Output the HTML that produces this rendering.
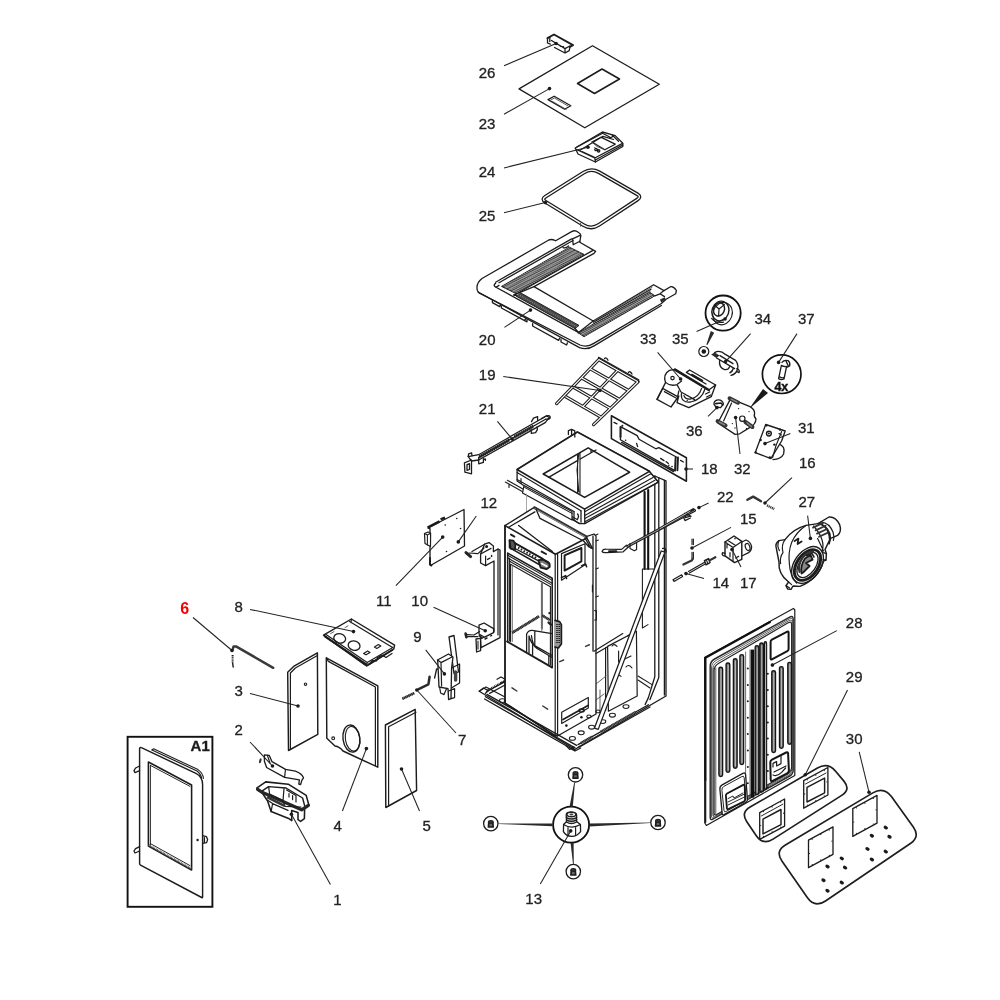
<!DOCTYPE html>
<html><head><meta charset="utf-8"><title>Exploded view</title>
<style>
html,body{margin:0;padding:0;background:#fff;}
body{width:1000px;height:1000px;overflow:hidden;font-family:"Liberation Sans",sans-serif;}
svg{display:block;position:absolute;left:0;top:0;filter:blur(0.55px);}
svg text{font-family:"Liberation Sans",sans-serif;font-size:15px;fill:#222;stroke:#222;stroke-width:.3px;}
.l{fill:none;stroke:#1c1c1c;stroke-width:1.3;stroke-linecap:round;stroke-linejoin:round;}
.t{fill:none;stroke:#444;stroke-width:.85;stroke-linecap:round;stroke-linejoin:round;}
.p{fill:#fff;stroke:#1c1c1c;stroke-width:1.3;stroke-linejoin:round;stroke-linecap:round;}
.k{fill:#2a2a2a;stroke:none;}
.g{fill:#666;stroke:#333;stroke-width:.6;}
.ld{fill:none;stroke:#222;stroke-width:1.05;}
.b{fill:none;stroke:#111;stroke-width:2;}
.d{fill:#1a1a1a;stroke:none;}
</style></head><body>
<svg width="1000" height="1000" viewBox="0 0 1000 1000">
<g id="10_top">
<path class="p" d="M519 88.9L592.5 45.8L659.3 84.3L584.8 127.8Z"/>
<path class="l" style="stroke-width:1.56" d="M577.5 83.5L602 69L619.5 79L594.5 93.5Z"/>
<path class="l" d="M548 99.6L554.2 96.2L570.8 105.8L564.6 109.2Z"/>
<path class="t" d="M550.5 100.2L554.4 98L567.8 105.8M552.6 101.6L566.2 109.4"/>
<path class="l" style="stroke-width:1.9" d="M547.5 38.2L554 34.5L573 45.2L569.8 47"/>
<path class="l" d="M547.5 38.2L547.5 43L550.3 44.2M549.8 37.2L549.8 41.5M554.5 47.5L565 53L569.2 50.6L570.2 46.2M565 48.6L565 53M551.5 40.5L565 48.6L569.8 46M560.5 46.3L563.5 46.6"/>
<path class="p" d="M575.2 148L602.4 132L615.2 135.6L622.8 143.2L622.8 146.5L595.4 162L578 154Z"/>
<path class="l" d="M576.5 149.5L594.8 158L622.6 143.4M594.8 158L595.4 162M595.3 160L622.8 145M580 150.2L603 136.3L613.5 139.5M592 142L600.8 137.2L615.2 144.2L604.8 149.8ZM603 133.5L611 137.8L613.5 135.8M612 134.8L618.5 141.2M582 151.5L594 157M577 147L602.6 133.2"/>
<path class="t" d="M592 142L597 146.5L604.8 149.8M594.5 147.5L598.5 150.5M596.5 148.5L599.5 151.5"/>
<circle class="l" cx="596" cy="149.5" r="1.2"/><circle class="l" cx="598.6" cy="150.8" r="1.2"/>
<path d="M545.6 201.9Q541.3 199.3 545.5 196.6L583.7 172.6Q591.3 167.8 599.1 172.3L637.3 194.3Q641.6 196.8 637.4 199.5L598.8 224.9Q591.3 229.8 583.6 225.1Z" style="fill:none;stroke:#1c1c1c;stroke-width:3.9"/>
<path d="M545.6 201.9Q541.3 199.3 545.5 196.6L583.7 172.6Q591.3 167.8 599.1 172.3L637.3 194.3Q641.6 196.8 637.4 199.5L598.8 224.9Q591.3 229.8 583.6 225.1Z" style="fill:none;stroke:#fff;stroke-width:1.32"/>
<path class="t" d="M580.5 223.2L580.5 226.2"/>
</g>
<g id="12_p20">
<path class="p" d="M477.4 290.5Q475.5 283.5 482 278.5L548.4 240.2Q551.5 238.6 555.6 240.8L571.6 231.6Q575 229.6 578.2 232.2Q581.6 234 580.6 237L579.8 242.2L595.6 251.4L594 253.4L534 286.6L593.2 321L653.6 284.7L664 290.6L670.5 286.7Q673.5 286 676.4 290.5L675.7 293.8L666 299.2L661.4 303.5L593.8 343.4Q587 347.8 580 345L479 292.8Z"/>
<path class="l" d="M478 292L579.5 347.6Q587 350.5 594.5 345.6L661.4 305.5"/>
<path class="l" d="M492.4 300.5L492.4 302.6L499.6 306.6L500.6 304.8M501.4 306L501.4 308L524.6 320.6L525.6 318.8M524.6 320.6L527 321.8L527 319.6M532.6 323.6L532.6 326L558.6 340.4L559.6 338.2M561 339.2L561 342L566.6 345L567.4 342.8"/>
<path class="l" d="M495.6 282.2L571.6 238.9"/>
<path class="l" d="M499.0 282.7L573.0 240.5"/>
<path class="l" d="M495.6 283.4Q492.5 285.6 496 287.2L499 285.4"/>
<path class="l" d="M572.6 238.8L580.6 235.2M572.6 238.8L573.2 244.8L579.8 241.2"/>
<path class="l" d="M563 247.6Q566 248.6 568.5 246"/>
<path class="l" d="M514.0 295.3L592.5 250.6"/>
<path class="l" d="M514 294.8L534 286.6"/>
<path d="M501.5 286.4 L569.4 247.2 L584.0 254.4 L516.0 293.6Z" style="fill:#484848;stroke:#1c1c1c;stroke-width:0.96"/><path d="M503.4 285.3L517.9 292.5M505.3 284.2L519.8 291.4M507.2 283.1L521.7 290.3M509.0 282.0L523.6 289.2M510.9 281.0L525.4 288.2M512.8 279.9L527.3 287.1M514.7 278.8L529.2 286.0M516.6 277.7L531.1 284.9M518.5 276.6L533.0 283.8M520.4 275.5L534.9 282.7M522.2 274.4L536.8 281.6M524.1 273.3L538.7 280.5M526.0 272.2L540.6 279.4M527.9 271.2L542.4 278.4M529.8 270.1L544.3 277.3M531.7 269.0L546.2 276.2M533.6 267.9L548.1 275.1M535.5 266.8L550.0 274.0M537.3 265.7L551.9 272.9M539.2 264.6L553.8 271.8M541.1 263.5L555.7 270.7M543.0 262.4L557.6 269.6M544.9 261.4L559.4 268.6M546.8 260.3L561.3 267.5M548.7 259.2L563.2 266.4M550.5 258.1L565.1 265.3M552.4 257.0L567.0 264.2M554.3 255.9L568.9 263.1M556.2 254.8L570.8 262.0M558.1 253.7L572.7 260.9M560.0 252.6L574.6 259.8M561.9 251.6L576.4 258.8M563.7 250.5L578.3 257.7M565.6 249.4L580.2 256.6M567.5 248.3L582.1 255.5M505.1 288.2L573.0 249.0M508.8 290.0L576.7 250.8M512.4 291.8L580.4 252.6" style="fill:none;stroke:#b0b0b0;stroke-width:0.72"/>
<path class="l" d="M496 287.2L578.8 332.6"/>
<path d="M516.2 296.2 L520.8 293.0 L579.0 325.4 L575.0 328.6Z" style="fill:#484848;stroke:#1c1c1c;stroke-width:0.96"/><path d="" style="fill:none;stroke:#b0b0b0;stroke-width:0.72"/>
<path d="M518.4 294.6L577 327" style="fill:none;stroke:#999;stroke-width:1.2;stroke-dasharray:.6 1.4"/>
<path class="l" d="M514 294.8L516.4 295.6M574.8 328.2L578.8 332.6"/>
<path class="t" d="M594.5 320.4L652.0 287.3"/>
<path class="l" d="M593.5 322.3L651.0 289.3"/>
<path class="t" d="M592.0 324.6L650.5 291.0"/>
<path d="M578.2 332.8 L649.7 292.2 L654.9 295.8 L584.0 336.7Z" style="fill:#484848;stroke:#1c1c1c;stroke-width:0.96"/><path d="M580.1 331.7L585.9 335.6M582.0 330.7L587.7 334.5M583.8 329.6L589.6 333.5M585.7 328.5L591.5 332.4M587.6 327.5L593.3 331.3M589.5 326.4L595.2 330.2M591.4 325.3L597.1 329.2M593.3 324.3L598.9 328.1M595.1 323.2L600.8 327.0M597.0 322.1L602.7 325.9M598.9 321.0L604.5 324.9M600.8 320.0L606.4 323.8M602.7 318.9L608.3 322.7M604.5 317.8L610.1 321.6M606.4 316.8L612.0 320.6M608.3 315.7L613.9 319.5M610.2 314.6L615.7 318.4M612.1 313.6L617.6 317.3M614.0 312.5L619.5 316.2M615.8 311.4L621.3 315.2M617.7 310.4L623.2 314.1M619.6 309.3L625.0 313.0M621.5 308.2L626.9 311.9M623.4 307.2L628.8 310.9M625.2 306.1L630.6 309.8M627.1 305.0L632.5 308.7M629.0 304.0L634.4 307.6M630.9 302.9L636.2 306.6M632.8 301.8L638.1 305.5M634.6 300.7L640.0 304.4M636.5 299.7L641.8 303.3M638.4 298.6L643.7 302.3M640.3 297.5L645.6 301.2M642.2 296.5L647.4 300.1M644.1 295.4L649.3 299.0M645.9 294.3L651.2 298.0M647.8 293.3L653.0 296.9M581.1 334.8L652.3 294.0" style="fill:none;stroke:#b0b0b0;stroke-width:0.72"/>
<path class="l" d="M593.2 321L578.2 332.8M654.9 295.8L660 293.8L664 290.6M660 293.8L664.5 296.6"/>
<path class="k" d="M660 299.6L664.8 297.2L665.6 299.4L661.2 302.6Z"/>
</g>
<g id="14_p19">
<path d="M598.8 359.6L556.6 403.6M638.0 381.8L593.6 424.6M598.8 359.6L638.0 381.8M565.8 396.8L600.0 416.6M617.6 370.3L582.9 406.7M590.5 368.9L628.5 390.5M582.3 378.2L619.0 399.2M574.0 387.5L609.5 407.9" style="fill:none;stroke:#1c1c1c;stroke-width:3.3;stroke-linecap:round"/>
<path d="M598.8 359.6L556.6 403.6M638.0 381.8L593.6 424.6M598.8 359.6L638.0 381.8M565.8 396.8L600.0 416.6M617.6 370.3L582.9 406.7M590.5 368.9L628.5 390.5M582.3 378.2L619.0 399.2M574.0 387.5L609.5 407.9" style="fill:none;stroke:#fff;stroke-width:1.2;stroke-linecap:round"/>
<path class="l" d="M598.6 357.4L638.6 379.8L638.6 382M604.5 358.6Q606 356.6 608 360.2M628.5 372.4Q630 370.4 632 374"/>
<path class="p" d="M468.2 456.7L478.7 454.7L546.3 416L549.4 417.4L545.2 422.6L478.7 460L471.5 461Z"/>
<path d="M479.5 454.7L509.5 437.7L509.5 441.5L479.5 458.5Z" style="fill:#8a8a8a;stroke:none"/><path d="M514.5 434.9L533.0 424.4L533.0 428.2L514.5 438.7Z" style="fill:#8a8a8a;stroke:none"/>
<path d="M479.5 455.0L480.1 458.3M481.3 454.0L481.9 457.3M483.1 453.0L483.7 456.3M484.9 452.0L485.5 455.3M486.7 451.0L487.3 454.3M488.5 449.9L489.1 453.2M490.3 448.9L490.9 452.2M492.1 447.9L492.7 451.2M493.9 446.9L494.5 450.2M495.7 445.9L496.3 449.2M497.5 444.8L498.1 448.1M499.3 443.8L499.9 447.1M501.1 442.8L501.7 446.1M502.9 441.8L503.5 445.1M504.7 440.8L505.3 444.1M506.5 439.7L507.1 443.0M508.3 438.7L508.9 442.0M514.5 435.2L515.1 438.5M516.3 434.2L516.9 437.5M518.1 433.2L518.7 436.5M519.9 432.1L520.5 435.4M521.7 431.1L522.3 434.4M523.5 430.1L524.1 433.4M525.3 429.1L525.9 432.4M527.1 428.1L527.7 431.4M528.9 427.0L529.5 430.3M530.7 426.0L531.3 429.3M532.5 425.0L533.1 428.3" style="fill:none;stroke:#222;stroke-width:1.08"/>
<path class="l" d="M478.7 457.4L545.6 419.3"/>
<path class="p" d="M464.4 462.8L471.5 460L471.5 473.8L464.9 472.1Z"/>
<path class="l" d="M467 464.5L469.5 463.6L469.5 469.5L467 470.4ZM468.2 456.7L468.6 453.8L471.6 452.8L472 455.6M478.7 457.6L478.7 463.8L483.4 462.4L483.4 458.6M484.4 459.2Q485.8 458 485.4 460.4"/>
<path class="l" d="M531.5 421.6L533.5 418.2L537.6 416.6L537.6 420.4M531 429.6L531.4 433.4L535.6 432.6L537.4 429.6L537 426.8M541.5 418.6L546.5 415.8Q550.5 415.2 550.2 417.6Q549.8 419.6 546 419.2"/>
<path class="p" style="stroke-width:1.56" d="M611.4 415.8L686.4 457.8L686.4 481.2L611.4 438.6Z"/>
<path class="l" d="M620.4 439.8L620.4 426.6L637.2 435.6L639 439.2L655.8 448.8L658.8 447.6L676.8 457.2M620.4 439.8L674.4 470.4M621.6 442.4L673.6 471.6"/>
<path class="l" style="stroke-width:1.92" d="M675.6 457.8L675 470.6M678 457.4L677.4 470.2M620.6 427.2L620.6 437"/>
<path class="l" d="M614 422.4L617 423.8M680.6 460.4L683.4 462M636.6 443.4L637.6 446.6M660.6 458.4L664 460.6M666 461.6L668.4 463.4"/>
<circle class="d" cx="625.6" cy="440.2" r=".8"/><circle class="d" cx="622.4" cy="425.8" r="1"/><circle class="d" cx="668.8" cy="465.2" r=".8"/><circle class="d" cx="672" cy="466.6" r=".8"/>
</g>
<g id="20_body">
<path class="p" d="M654.8 476L666 480.8L666 696L578 747.4L575 749.6L479.2 691.2L486 687L505 697"/>
<path class="l" d="M654.8 476L654.8 676.8L648.4 697.6L645.2 704.4M658.8 478L658.8 677.6L650 699.6M664.4 480.4L664.4 695"/>
<path class="l" d="M644.6 492L644.6 569M648.2 490L648.2 569" style="stroke-width:2.1;stroke:#111"/>
<path class="l" d="M642.4 569L654.6 569M642.4 569L642.4 628L648 624.6" style="stroke-width:1.08"/>
<path class="p" d="M517.1 469.5L577.4 432L649.4 471.3L658.4 482.1L584.8 523.6L579.2 523.5L517.1 481Z"/>
<path class="p" d="M517.1 469.5L577.4 432L649.4 471.3L584.6 509.1Z" style="stroke-width:1.56"/>
<path class="l" d="M543.2 474L588.2 447.9L629.6 472.2L584.6 497.4Z" style="stroke-width:1.56"/>
<path class="l" d="M577.6 454.5L577.6 492.6M580 453.2L580 494M578.8 454L577 470L578.8 492" style="stroke-width:1.08"/>
<path class="l" d="M548.6 477.4L577.4 460.6M580.2 459L596 450M591 449.6L591 452.6"/>
<path class="l" d="M568.4 434.6L568.4 430.6L571.6 429.4L574.8 430.8L574.8 437M571.6 429.4L571.6 435"/>
<path class="l" d="M584.8 511.8L650.4 474.0" style="stroke-width:1.14"/>
<path class="l" d="M584.8 515.4L653.0 477.6" style="stroke-width:1.14"/>
<path class="l" d="M584.8 518.6L655.0 480.2" style="stroke-width:1.14"/>
<path class="l" d="M584.8 521.7L658.4 482.1" style="stroke-width:1.14"/>
<path class="l" d="M649.4 471.3L658.4 482.1M584.6 509.1L584.8 523.6"/>
<path class="l" d="M517.1 472.5L581 510.8M517.1 479.6L574 511.6M521 478.6L521 483.4M505.4 482.1L579.2 523.5M507.4 480.3L577.6 519.8M509 484.2L509 487.4" style="stroke-width:1.14"/>
<path class="t" d="M526 486.6L540 494.6L540 498.6M546 498L560 506L560 510"/>
<path class="l" d="M574 511.6L574 520M581 511L581 522M577.5 514Q579.5 516 577.5 519"/>
<path class="p" d="M524 485.5L572 511.5L572 520L522.5 493Z" style="stroke-width:1.2"/>
<path class="l" d="M524.6 487.4L572 513.4" style="stroke-width:1.08"/>
<path class="l" d="M526.5 494L526.5 513" style="stroke-width:0.84;stroke:#999"/>
<path class="p" d="M505 525.6L534.2 507.4L586.2 536.6L594 534L596 536L596 714L557.5 736L554.7 735.3L505 703Z"/>
<path class="l" d="M505 525.6L555.5 554.3L586.3 538.2" style="stroke-width:1.56"/>
<path class="l" d="M534.6 507.8L586.2 536.8" style="stroke-width:2.8;stroke:#333"/>
<path class="l" d="M535 508.8L585.6 537.2" style="stroke-width:0.72;stroke:#bbb"/>
<path class="l" d="M540 518.4L583.6 541M536.2 509.4L540 518.4M508.2 527.5L534.9 511.9M518.6 525.5L552.4 551.5M586.2 536.6L592.6 548.6L589 547L583.6 541M585 538L590.6 548"/>
<path class="l" d="M555.2 554.3L555.2 735.4M557.6 554.3L557.6 735.8" style="stroke-width:1.2"/>
<path class="l" d="M593 536L593 651" style="stroke-width:1.32"/>
<path class="l" d="M505 525.6L505 703" style="stroke-width:1.56"/>
<path class="l" d="M505 703L554.7 735.3" style="stroke-width:1.44"/>
<path class="p" d="M509.5 540.4L548.5 562.2Q550.4 564.4 549.6 566.6L546.6 568.8L509.5 547.6Z" style="stroke-width:1.56"/>
<path class="l" d="M515 542.8L542.8 558.6M516 549L538.5 560.8" style="stroke-width:1.32"/>
<path class="l" d="M518 547.6L537 558.4" style="stroke-width:2;stroke:#222;stroke-dasharray:1.6 1.6;stroke-linecap:butt"/>
<path class="l" d="M509.6 540.2L513.4 540.6L515.4 544L515 549.6L510.6 548.6Z" style="stroke-width:1.8;fill:#555"/>
<path class="l" d="M538.4 560.2L543 559.6L549.4 563.6L549.6 567L546.4 569.2L540.6 567.6Z" style="stroke-width:1.8;fill:#777"/>
<path class="l" d="M541.6 563.6L547 566.4" style="stroke-width:1.68;stroke:#fff"/>
<path class="l" d="M511 534.6L514.4 536.6M541.6 551.6L546 554" style="stroke-width:1.92"/>
<path class="l" d="M507.7 553.1L552.2 578.3L552.2 667.4M507.7 553.1L507.7 642" style="stroke-width:1.56"/>
<path class="l" d="M507.7 555.2L552.2 580.4M507.7 558L552.2 583.2M509.6 561.2L550.6 584.4M510.5 564.3L550.4 586.7" style="stroke-width:1.08"/>
<path class="l" d="M509.6 558L509.6 641M510.6 564.3L510.6 641.5" style="stroke-width:1.08"/>
<path class="l" d="M512.4 566L512.4 641.5" style="stroke-width:0.96;stroke:#777"/>
<path class="l" d="M541.4 582.8L541.4 628M542.4 583L542.4 629" style="stroke-width:0.96;stroke:#666"/>
<path class="l" d="M550.4 586.7L550.4 665" style="stroke-width:1.08"/>
<path class="l" d="M507.1 641.5L551.9 667.4" style="stroke-width:1.92"/>
<path class="l" d="M512.2 632.8L539.2 616.2" style="stroke-width:2.5;stroke:#6a6a6a;stroke-linecap:butt"/>
<path class="l" d="M512.2 632.8L539.2 616.2" style="stroke-width:2.9;stroke-dasharray:.8 .8;stroke-linecap:butt"/>
<path class="l" d="M526.6 651.4L526.6 634Q528.6 630 532.2 630.4L552 633.6M529 653L529 636Q531.6 644.6 534.6 645.6L551.8 655.2M531.4 635.6Q533 646.6 536.6 648.2L551.8 657.2M534.8 631.4L534.8 645M532.6 645L532.6 655.2M548.8 656L548.8 664.4" style="stroke-width:1.26"/>
<path class="l" d="M541.8 584L541.8 630.6" style="stroke-width:0.96;stroke:#666"/>
<path class="l" d="M542.2 615.4L549.8 620" style="stroke-width:2.2;stroke:#6a6a6a;stroke-linecap:butt"/>
<path class="l" d="M542.2 615.4L549.8 620" style="stroke-width:2.6;stroke-dasharray:.8 .8;stroke-linecap:butt"/>
<path class="l" d="M548.6 622.6L551 624.6" style="stroke-width:2.4"/>
<circle class="d" cx="549.4" cy="613.2" r="1.1"/>
<path class="p" d="M555 620.4L559.6 621.6L561.4 624.6L561.4 644L558.4 648L555 647" style="stroke-width:1.68;fill:#999"/>
<path class="l" d="M557 624L557 644M559.2 624L559.2 644" style="stroke-width:1.56;stroke-dasharray:1 1;stroke-linecap:butt"/>
<path class="l" d="M561.5 553.6L585 543.8L585 564.8L561.5 580.2Z" style="stroke-width:1.2"/>
<path class="l" d="M564.6 555.4L581.4 548L581.4 561.3L564.6 570.6Z" style="stroke-width:1.92"/>
<path class="l" d="M561.5 577.6L565.6 575.6L566.6 578.4M581.6 565.6L585.6 564L586.6 566.8" style="stroke-width:1.56"/>
<path class="l" d="M596 535L598 534M596 541L598.4 540M596 569L598.4 568M596 597L598.4 596M594.6 610.6L596.4 610.6L596.4 620L594.6 620M592.4 585L592.4 592" style="stroke-width:1.08"/>
<path class="l" d="M512 687.8L516.8 691M542.8 706L547.6 709.2M559.8 661.6L563.6 660M585.6 646.4L589.4 644.8" style="stroke-width:1.5;stroke:#3a3a3a"/>
<path class="l" d="M561.7 712.2L588.3 697.5L588.3 708L561.7 723.4Z" style="stroke-width:1.2"/>
<path class="l" d="M563 719.6L588 705.4" style="stroke-width:1.68"/>
<circle class="d" cx="566.4" cy="725.6" r="1.3"/><circle class="d" cx="581.4" cy="717.2" r="1.3"/>
<ellipse class="l" cx="581.6" cy="710.6" rx="2.6" ry="1.6"/>
<path class="l" d="M594 651.2L622.8 633.6M596 653.6L608 646.6M607.6 646.4L636.4 631.2L637.2 696L608.4 711.2ZM605.6 647.6L605.6 710.4" style="stroke-width:1.2"/>
<path class="l" d="M612 646Q614 643 617 646.4M627.6 636Q629.6 633.6 632 637M626 667Q628.6 663.6 632 668M619 675L621 676.4M618.6 651L618.6 662L631 656" style="stroke-width:1.14"/>
<path class="t" d="M596 684L606 676M596 700L604 694M600 690L600 712"/>
<path class="l" d="M638 676L652 684.6M638 680L650 688" style="stroke-width:1.08"/>
<path class="l" d="M479.2 691.2L483.4 688L488.4 690.6L485.4 693.2"/>
<path class="l" d="M485.4 696.8L575 747.9M487 694.4L576.6 745.4M484.6 699L573.6 750" style="stroke-width:1.32"/>
<path class="l" d="M486.6 691.6L505 681.6M489.6 693.4L505 685" style="stroke-width:1.2"/>
<path class="l" d="M487 690.6L504 681" style="stroke-width:2;stroke-dasharray:.8 .9;stroke-linecap:butt"/>
<path class="l" d="M497 679.2L501 677L504.6 679M500.6 683.4L505 681"/>
<path class="l" d="M578 744.6L648.4 704.8M579 747.2L650 707" style="stroke-width:1.32"/>
<path class="l" d="M601 731.6L636 711.8M581 743L592 736.8" style="stroke-width:2.2;stroke:#777;stroke-linecap:butt"/>
<path class="l" d="M601 731.6L636 711.8M581 743L592 736.8" style="stroke-width:2.5;stroke-dasharray:.8 .7;stroke-linecap:butt"/>
<path class="l" d="M571 748.6L575 751L580.6 748M566 745.6L569.6 749.4L574 747"/>
<ellipse class="l" style="stroke-width:1.08" cx="612.4" cy="715.2" rx="3" ry="1.9"/>
<ellipse class="l" style="stroke-width:1.08" cx="602.8" cy="721.6" rx="3" ry="1.9"/>
<ellipse class="l" style="stroke-width:1.08" cx="591.6" cy="727.2" rx="3" ry="1.9"/>
<ellipse class="l" style="stroke-width:1.08" cx="581.2" cy="732.8" rx="3" ry="1.9"/>
<ellipse class="l" style="stroke-width:1.08" cx="572.4" cy="738.4" rx="3" ry="1.9"/>
<ellipse class="l" style="stroke-width:1.08" cx="502.4" cy="700.6" rx="3" ry="1.9"/>
<ellipse class="l" style="stroke-width:1.08" cx="626.0" cy="706.6" rx="3" ry="1.9"/>
<ellipse class="l" style="stroke-width:1.08" cx="589" cy="716.4" rx="2.2" ry="1.4"/><ellipse class="l" style="stroke-width:1.08" cx="598" cy="711.4" rx="2.2" ry="1.4"/>
<path class="p" d="M661.2 551L664.9 552.2L598.2 729.4L594.4 728.2Z" style="stroke-width:1.26"/>
<path class="l" d="M662.6 548.4Q666.4 547.6 666 552"/>
<path class="p" d="M602 551.2Q603 549 606 549.2L621.6 549.4L626.4 545.2L628.6 546.8L623.2 551.8L606.4 552.6Q602.6 553 602 551.2Z" style="stroke-width:1.2"/>
<path class="l" d="M609 551.2L616.4 551.2" style="stroke-width:1.8"/>
<path class="l" d="M627.8 546.2L694.6 510.4" style="stroke-width:2.9;stroke:#1c1c1c"/>
<path class="l" d="M627.8 546.2L694.6 510.4" style="stroke-width:0.66;stroke:#ddd"/>
<path class="l" d="M630 543.4L630 548.6L634.4 550.8L636.6 549.4L636.6 543M684.6 513.2L685.4 517.6L689.6 516.4" style="stroke-width:1.14"/>
</g>
<g id="30_right">
<circle class="b" cx="723.1" cy="313.1" r="17.6" style="stroke-width:1.8"/>
<ellipse class="l" cx="720.4" cy="311.0" rx="8.4" ry="10.0" style="stroke-width:1.44" transform="rotate(20 720.4 311.0)"/>
<ellipse class="l" cx="719.0" cy="309.4" rx="5.4" ry="6.8" style="stroke-width:1.44" transform="rotate(20 719.0 309.4)"/>
<ellipse class="l" cx="722.6" cy="313.6" rx="9.6" ry="11.4" style="stroke-width:1.08" transform="rotate(20 722.6 313.6)"/>
<path class="l" d="M714.4 305L719 309L718.6 316M719 309L724.4 304.6M711.6 318.4Q716 323.6 723.6 322.2" style="stroke-width:1.2"/>
<path class="k" d="M710.8 331L714.2 332.8L707.4 345L706.4 344.4Z"/>
<circle class="l" cx="703.8" cy="351.5" r="5.0" style="stroke-width:1.2"/>
<circle class="d" cx="703.8" cy="351.5" r="2.3"/>
<path class="k" d="M711.2 354.4L714.6 352.4L719.6 355.6L716.4 358Z"/>
<path class="l" d="M714.6 352.6Q720 349.6 725.4 354.4L735.6 360.4Q739.6 365.6 736.6 371.4Q735 374.6 731 375.4M716.6 358L734.6 368.6M720 355.6L733 363.6M719.6 360Q718.6 367.6 724.6 369.6Q728.6 370 729.6 366.6M736.6 371.4L739 372.6Q740 371 738.4 369.4L736.8 368.6M729.8 372.8Q732.6 371.6 733.4 368" style="stroke-width:1.32"/>
<path class="p" d="M665.6 382.4Q662.6 374.4 669.4 370.4L675 369.4L708.8 390L715.6 385L711.3 396.6L688.8 407.6L677 402.6L678.8 396L671 407L657 399.4L662.6 388.4Z" style="stroke-width:1.32"/>
<path class="l" d="M675 369.6L708.8 390" style="stroke-width:2.6"/>
<path class="l" d="M686.4 372.4L689.6 370L715.6 385M686.4 372.4L706 384M692 374.4L702.6 380.6" style="stroke-width:1.32"/>
<path class="l" d="M693.6 376L701.6 380.6" style="stroke-width:2"/>
<circle class="l" cx="672.5" cy="378.1" r="1.7" style="stroke-width:1.2"/>
<path class="l" d="M665.6 382.4Q670 386.6 677 384.6L681.6 381M662.6 388.4L677.6 396.6L678.8 391M664.4 391.6L676 398M677 384.6L681 392L694.6 399.6M681.4 393.6Q680.6 403 690.6 402Q701.6 400 705 389M684 395.6Q685 399.4 690.6 399Q698.6 397.6 701.6 388.4M705.6 394L709.6 392M706.6 397L710.6 395M662.4 389L657 399.4" style="stroke-width:1.26"/>
<circle class="d" cx="687.2" cy="400.4" r="0.7"/>
<path class="l" d="M714 404.4Q713.6 400.4 718 399.8Q722.6 399.6 723.4 404L720.6 407.6L716 407.2Z" style="stroke-width:1.32"/>
<path class="l" d="M715.6 403.6L721 403L722.8 405" style="stroke-width:1.56"/>
<circle class="b" cx="781.7" cy="374.2" r="19.3" style="stroke-width:1.68"/>
<path class="d" d="M763 388.9L768 393L749.2 408.8Z"/>
<text x="774.4" y="390.6" style="font-size:12.5px;font-weight:bold;fill:#111;stroke:#111;stroke-width:0.42">4x</text>
<path class="l" d="M781.4 365.4L778.6 378.6Q781 380.4 784 379L786.6 366.4M781.4 365.4Q784 367 786.6 366.4M782 362.4Q784 359.6 788 360.6Q790.6 362.6 789.6 366L786.6 367.4M786 361L788.6 366.6M780 377Q782 378.6 784.4 377.4" style="stroke-width:1.32"/>
<path class="p" d="M730.6 398.6L750 406.6Q755 409.6 754.6 413.6Q753.4 416.6 756 419Q755.6 424.6 750 427.4L739.7 433.8L735.1 434.4L717.8 423Z" style="stroke-width:1.32"/>
<path class="l" d="M731.6 403L723.6 421" style="stroke-width:1.2"/>
<path class="l" d="M729.6 398.4L738.0 402.6" style="stroke-width:4;stroke:#333"/>
<path class="l" d="M731.2 399.2L737.0 402.1" style="stroke-width:1.44;stroke:#888"/>
<path class="l" d="M717.6 421.2L725.6 425.4" style="stroke-width:4;stroke:#333"/>
<path class="l" d="M719.2 422.0L724.6 424.9" style="stroke-width:1.44;stroke:#888"/>
<path class="l" d="M745.4 422.0L752.4 427.0" style="stroke-width:4;stroke:#333"/>
<path class="l" d="M747.0 422.8L751.4 426.5" style="stroke-width:1.44;stroke:#888"/>
<circle class="l" cx="742.3" cy="418.7" r="2.7" style="stroke-width:1.2"/>
<circle class="d" cx="738.6" cy="408.6" r="0.7"/>
<circle class="d" cx="749.0" cy="411.6" r="0.7"/>
<circle class="d" cx="732.4" cy="423.6" r="0.7"/>
<circle class="d" cx="746.6" cy="428.4" r="0.7"/>
<circle class="d" cx="735.0" cy="428.0" r="0.7"/>
<path class="l" d="M778 443.6Q786 446 783.6 454Q781 459.4 773 459.6" style="stroke-width:1.32"/>
<path class="p" d="M765.7 424.5L785.2 431L781.6 441L770.9 458.6L755.3 452.6Z" style="stroke-width:1.32"/>
<path class="l" d="M781.6 431.6L776 445.6L772.6 457.6M779 433.6L781.4 435" style="stroke-width:1.2"/>
<circle class="l" cx="768.9" cy="433.6" r="2.4" style="stroke-width:1.44"/>
<circle class="d" cx="768.9" cy="433.6" r="1.0"/>
<circle class="d" cx="766.4" cy="425.4" r="1.2"/>
<circle class="d" cx="780.0" cy="429.6" r="1.2"/>
<circle class="d" cx="760.6" cy="440.0" r="1.2"/>
<circle class="d" cx="774.4" cy="444.6" r="1.2"/>
<circle class="d" cx="755.6" cy="452.4" r="1.2"/>
<circle class="d" cx="769.8" cy="457.4" r="1.2"/>
</g>
<g id="32_right2">
<path class="l" d="M747.4 499.8L753.2 496.6L761 501.2" style="stroke-width:2.4;stroke:#333"/>
<path class="l" d="M767 505.4L774.2 509" style="stroke-width:2.4;stroke:#333;stroke-dasharray:1.2 .6;stroke-linecap:butt"/>
<path class="l" d="M660 528.6L693.4 509.4" style="stroke-width:2.6;stroke:#222"/>
<path class="l" d="M660 528.6L690 511.4" style="stroke-width:0.84;stroke:#ddd"/>
<path class="l" d="M683.6 517.4L685 520.6L690.4 518M687 514L691 516.4" style="stroke-width:1.32"/>
<path class="l" d="M692 539L692 544.6M693.4 539L693.4 544.6M692 552.2L692 558.6M693.4 552.2L693.4 558.6" style="stroke-width:1.08"/>
<path class="l" d="M692.8 558.8L691.6 560.6L683.4 564.6" style="stroke-width:2.2;stroke:#333"/>
<path class="l" d="M674 581.4L682.6 576.4L681.6 574.8L673 579.8Z" style="stroke-width:1.2"/>
<path class="l" d="M688.4 571.4L704.6 562.2M689.4 573L705.6 563.8" style="stroke-width:1.2"/>
<path class="p" d="M704.4 560.6L708.6 558.6L710 562.6L706 564.8Z" style="stroke-width:1.44"/>
<path class="l" d="M706.4 559.8L707.8 563.8" style="stroke-width:1.08"/>
<path class="l" d="M709.6 560.4L715.4 557.2" style="stroke-width:2.2;stroke:#333"/>
<path class="p" d="M741.8 542L746 540Q750.6 541.6 751.6 546.6Q751.6 551 748.6 552.6L741.8 556" style="stroke-width:1.32"/>
<ellipse class="l" cx="747.6" cy="547.0" rx="2.2" ry="3.6" style="stroke-width:1.2" transform="rotate(-20 747.6 547.0)"/>
<path class="p" d="M725 542L734 536L741.8 541.4L741.8 559.4L734.6 562.6L725 555.8Z" style="stroke-width:1.44"/>
<path class="l" d="M725 542L733 547.4L741.8 541.4M733 547.4L733 561.4M727 543L727 548M728.6 541L735.6 545.6M730 552.6L730 557M735.6 558L738.6 556.4" style="stroke-width:1.2"/>
<path class="l" d="M725 553.4L722.6 552.6Q721.4 554.6 723.4 555.8L725 555.8" style="stroke-width:1.2"/>
<circle class="d" cx="735.0" cy="538.6" r="0.8"/>
<path class="p" d="M818 523.6L829 517Q835.6 516.4 839.6 524.6Q842 531.6 837.6 535.4L830.6 538.4" style="stroke-width:1.44"/>
<path class="l" d="M818 523.6Q826 524.6 829.6 533.6Q831 538.6 829 543.6" style="stroke-width:1.92"/>
<path class="l" d="M821 521.8Q829.6 523 833 532Q834.6 537 833.4 540.4" style="stroke-width:1.2"/>
<path class="p" d="M776.4 548.6Q774.6 543.6 779 540.6L785 539.6Q793 529 806 525.4L818 523.6Q829 526 829.6 540L825 549.6L826.4 553.6L826 560L823.6 561Q818 579 800 586.4L793 586L791 589.4L787.6 589L786 585.6L788.6 582Q778 574 779 562Z" style="stroke-width:1.44"/>
<path class="l" d="M785 539.6Q781 545 783 552.6Q779.6 557 780.6 563.6M779 540.6Q776.6 546 779.4 550.6M806 525.4Q796 532 791.6 542.6Q788 552 789.4 564Q790 575.6 796.6 583M813.6 526Q826 540 822 552M817.6 538.6L823.6 551" style="stroke-width:1.2"/>
<path class="l" d="M794.6 541L798.4 538.6L797.6 544L801.6 541.4" style="stroke-width:1.8"/>
<path class="l" d="M813 527.6L823 523M815.6 530.4L825.6 525.8M817 533.6L827 529M819 536.8L828 532.6" style="stroke-width:1.8;stroke:#333"/>
<path class="l" d="M823.6 552.6L826.4 553.6M823 559.6L826 560M786 585.6L789.6 588M788.6 582L791.6 584.6" style="stroke-width:1.2"/>
<ellipse class="l" cx="807.5" cy="565.0" rx="20.4" ry="13.2" style="stroke-width:1.44" transform="rotate(-55 807.5 565.0)"/>
<ellipse class="l" cx="807.5" cy="565.0" rx="17.2" ry="10.6" style="stroke-width:2.9;stroke:#1c1c1c" transform="rotate(-55 807.5 565.0)"/>
<ellipse class="l" cx="807.5" cy="565.0" rx="14.2" ry="8.2" style="stroke-width:1.32" transform="rotate(-55 807.5 565.0)"/>
<path class="l" d="M801.6 573.6Q800 566 805 558.6L810.6 555L812.6 559.6L806 563L809.6 566L803.6 572Z" style="stroke-width:1.8;fill:#888"/>
<path class="l" d="M799.6 572Q797.6 565 802.6 557.6Q807 552 813 551.6" style="stroke-width:2.2;stroke:#333"/>
<path class="l" d="M806.6 555.6L812 553.6L814 557" style="stroke-width:1.56"/>
</g>
<g id="40_p28">
<path class="p" d="M704.6 657.6L793.4 608.4L794.8 610L794.8 775.4L706.4 825.4L704.8 823Z" style="stroke-width:1.2"/>
<path class="l" d="M705.4 780L705.4 657.8L770 622" style="stroke-width:2.2;stroke:#111"/>
<path class="l" d="M705.4 780L705.4 822" style="stroke-width:1.8"/>
<path d="M710.2 666.4Q710.2 661.4 714.6 659.0L789.7 617.1Q793.2 615.2 793.2 619.2L793.2 770.0Q793.2 774.0 789.7 776.0L712.8 819.1Q710.2 820.6 710.2 817.6Z" style="fill:#fff;stroke:none"/>
<path d="M710.2 666.4Q710.2 661.4 714.6 659.0L789.7 617.1Q793.2 615.2 793.2 619.2L793.2 770.0Q793.2 774.0 789.7 776.0L712.8 819.1Q710.2 820.6 710.2 817.6Z" style="fill:none;stroke:#2a2a2a;stroke-width:1.44"/>
<path d="M711.5 668.0Q711.5 663.0 715.9 660.5L789.2 619.0Q792.7 617.0 792.7 621.0L792.7 769.0Q792.7 773.0 789.2 774.9L714.1 817.6Q711.5 819.0 711.5 816.0Z" style="fill:none;stroke:#555;stroke-width:0.96"/>
<path d="M712.8 669.5Q712.8 664.5 717.1 662.0L788.7 620.8Q792.2 618.8 792.2 622.8L792.2 767.9Q792.2 771.9 788.7 773.9L715.4 816.0Q712.8 817.5 712.8 814.5Z" style="fill:none;stroke:#555;stroke-width:0.96"/>
<path d="M714.1 671.1Q714.1 666.1 718.4 663.6L788.2 622.7Q791.6 620.7 791.6 624.7L791.6 766.9Q791.6 770.9 788.2 772.9L716.7 814.4Q714.1 815.9 714.1 812.9Z" style="fill:none;stroke:#2a2a2a;stroke-width:1.2"/>
<rect x="718.9" y="667.2" width="3.7" height="109.4" rx="1.8" ry="1.8" style="fill:#7c7c7c;stroke:#151515;stroke-width:1.38"/>
<path d="M721.0 669.2L721.0 774.6" style="stroke:#c8c8c8;stroke-width:0.84;fill:none"/>
<rect x="726.1" y="663.0" width="3.7" height="109.4" rx="1.8" ry="1.8" style="fill:#7c7c7c;stroke:#151515;stroke-width:1.38"/>
<path d="M728.2 665.0L728.2 770.4" style="stroke:#c8c8c8;stroke-width:0.84;fill:none"/>
<rect x="733.4" y="658.8" width="3.7" height="109.4" rx="1.8" ry="1.8" style="fill:#7c7c7c;stroke:#151515;stroke-width:1.38"/>
<path d="M735.4 660.8L735.4 766.2" style="stroke:#c8c8c8;stroke-width:0.84;fill:none"/>
<rect x="739.9" y="654.6" width="3.7" height="110.0" rx="1.8" ry="1.8" style="fill:#7c7c7c;stroke:#151515;stroke-width:1.38"/>
<path d="M742.0 656.6L742.0 762.6" style="stroke:#c8c8c8;stroke-width:0.84;fill:none"/>
<rect x="771.8" y="670.8" width="3.7" height="81.8" rx="1.8" ry="1.8" style="fill:#7c7c7c;stroke:#151515;stroke-width:1.38"/>
<path d="M773.8 672.8L773.8 750.6" style="stroke:#c8c8c8;stroke-width:0.84;fill:none"/>
<rect x="779.5" y="666.6" width="3.7" height="81.8" rx="1.8" ry="1.8" style="fill:#7c7c7c;stroke:#151515;stroke-width:1.38"/>
<path d="M781.6 668.6L781.6 746.4" style="stroke:#c8c8c8;stroke-width:0.84;fill:none"/>
<rect x="787.8" y="662.4" width="3.7" height="81.8" rx="1.8" ry="1.8" style="fill:#7c7c7c;stroke:#151515;stroke-width:1.38"/>
<path d="M789.8 664.4L789.8 742.2" style="stroke:#c8c8c8;stroke-width:0.84;fill:none"/>
<path class="l" d="M713.4 668L713.4 816M715.8 668L715.8 815" style="stroke-width:0.96;stroke:#555"/>
<rect x="750.6" y="649.6" width="3.6" height="148" style="fill:#111;stroke:none"/>
<rect x="755.2" y="645.6" width="3.6" height="149.0" rx="1.8" ry="1.8" style="fill:#6a6a6a;stroke:#151515;stroke-width:1.38"/>
<path d="M757.2 647.6L757.2 792.6" style="stroke:#c8c8c8;stroke-width:0.84;fill:none"/>
<rect x="759.8" y="643.0" width="3.6" height="149.0" rx="1.8" ry="1.8" style="fill:#6a6a6a;stroke:#151515;stroke-width:1.38"/>
<path d="M761.8 645.0L761.8 790.0" style="stroke:#c8c8c8;stroke-width:0.84;fill:none"/>
<rect x="764.3" y="641.6" width="2.2" height="148.0" rx="1.8" ry="1.8" style="fill:#7c7c7c;stroke:#151515;stroke-width:1.38"/>
<path d="M765.6 643.6L765.6 787.6" style="stroke:#c8c8c8;stroke-width:0.84;fill:none"/>
<circle class="d" cx="747.8" cy="668.5" r="1.0"/>
<circle class="d" cx="747.8" cy="684.9" r="1.0"/>
<circle class="d" cx="747.8" cy="701.3" r="1.0"/>
<circle class="d" cx="747.8" cy="717.7" r="1.0"/>
<circle class="d" cx="747.8" cy="734.1" r="1.0"/>
<circle class="d" cx="747.8" cy="750.5" r="1.0"/>
<circle class="d" cx="747.8" cy="766.9" r="1.0"/>
<circle class="d" cx="747.8" cy="783.3" r="1.0"/>
<path class="l" d="M745.6 652L745.6 799M750 650L750 797" style="stroke-width:0.84;stroke:#555"/>
<circle class="d" cx="767.8" cy="673.8" r="1.0"/>
<circle class="d" cx="767.8" cy="690.0" r="1.0"/>
<circle class="d" cx="767.8" cy="706.2" r="1.0"/>
<circle class="d" cx="767.8" cy="722.4" r="1.0"/>
<circle class="d" cx="767.8" cy="738.6" r="1.0"/>
<circle class="d" cx="767.8" cy="754.8" r="1.0"/>
<circle class="d" cx="767.8" cy="771.0" r="1.0"/>
<circle class="d" cx="767.8" cy="787.2" r="1.0"/>
<path d="M770.6 641.9Q770.6 640.4 771.9 639.7L787.3 631.7Q788.6 631.0 788.6 632.5L788.6 648.9Q788.6 650.4 787.3 651.1L771.9 659.3Q770.6 660.0 770.6 658.5Z" style="fill:#fff;stroke:#151515;stroke-width:2"/>
<path d="M719.9 789.2Q719.6 786.2 722.2 784.8L742.8 773.4Q745.4 772.0 745.6 775.0L747.4 799.2Q747.6 801.2 745.9 802.2L724.1 814.6Q722.4 815.6 722.2 813.6Z" class="p" style="stroke-width:1.32"/>
<path d="M721.9 790.1Q721.6 787.6 723.8 786.4L741.8 776.6Q744.0 775.4 744.2 777.9L745.8 798.0Q746.0 800.0 744.3 801.0L725.9 811.6Q724.2 812.6 724.0 810.6Z" class="l" style="stroke-width:0.96"/>
<path d="M725.9 795.7Q725.8 794.2 727.1 793.5L743.3 784.9Q744.6 784.2 744.7 785.7L745.1 799.5Q745.2 801.0 743.8 801.6L728.4 809.0Q727.0 809.6 726.9 808.1Z" style="fill:#fff;stroke:#151515;stroke-width:1.8"/>
<path class="l" d="M728 798.6L733 796L734 798L743 793M728 802L743.6 794.4M728 805L743.6 797.4" style="stroke-width:0.96"/>
<path d="M770.3 762.6Q770.2 760.6 772.0 759.7L786.2 752.5Q788.0 751.6 788.1 753.6L788.9 770.4Q789.0 772.4 787.2 773.3L772.6 780.9Q770.8 781.8 770.7 779.8Z" style="fill:#fff;stroke:#151515;stroke-width:2"/>
<path class="l" d="M773 767L773 763.4L776.6 761.6L776.6 766L781 763.6L781 755.6M773 775Q777 777 781.6 772.4L785.6 768M774 772L786 766" style="stroke-width:1.2"/>
<circle class="d" cx="772.4" cy="665.0" r="1.5"/>
<path d="M746.8 821.7Q740.6 812.6 750.1 807.1L817.5 768.0Q827.9 762.0 835.6 771.2L843.9 781.1Q851.0 789.5 841.7 795.4L773.1 839.1Q763.0 845.6 756.3 835.7Z" style="fill:#fff;stroke:#1e1e1e;stroke-width:1.68"/>
<path d="M781.9 861.0Q775.1 851.1 785.4 845.0L872.8 792.9Q884.0 786.2 891.6 796.8L913.3 827.0Q920.3 836.8 910.4 843.5L825.5 901.0Q814.7 908.3 807.3 897.6Z" style="fill:#fff;stroke:#1e1e1e;stroke-width:1.68"/>
<path class="l" d="M803.7 780.7L827.9 767.5L827.9 795.0L803.7 808.2Z" style="stroke-width:1.32"/>
<circle class="d" cx="807.3" cy="779.8" r="0.6"/>
<circle class="d" cx="815.8" cy="775.2" r="0.6"/>
<circle class="d" cx="824.3" cy="770.6" r="0.6"/>
<circle class="d" cx="826.9" cy="781.8" r="0.6"/>
<circle class="d" cx="824.3" cy="795.9" r="0.6"/>
<circle class="d" cx="815.8" cy="800.5" r="0.6"/>
<circle class="d" cx="807.3" cy="805.1" r="0.6"/>
<circle class="d" cx="804.7" cy="793.9" r="0.6"/>
<path class="l" d="M807.0 787.3L824.6 778.1L824.6 792.8L807.0 802.0Z" style="stroke-width:1.44"/>
<path class="l" d="M759.7 812.6L784.6 799.0L784.6 826.2L759.7 839.4Z" style="stroke-width:1.32"/>
<circle class="d" cx="763.4" cy="811.6" r="0.6"/>
<circle class="d" cx="772.1" cy="806.9" r="0.6"/>
<circle class="d" cx="780.8" cy="802.1" r="0.6"/>
<circle class="d" cx="783.6" cy="813.2" r="0.6"/>
<circle class="d" cx="780.8" cy="827.2" r="0.6"/>
<circle class="d" cx="772.1" cy="831.8" r="0.6"/>
<circle class="d" cx="763.4" cy="836.4" r="0.6"/>
<circle class="d" cx="760.7" cy="825.5" r="0.6"/>
<path class="l" d="M763.0 819.2L781.0 809.5L781.0 824.7L763.0 833.9Z" style="stroke-width:1.44"/>
<path class="l" d="M805.5 784.0L826.1 773.0M761.5 815.9L782.8 804.2" style="stroke-width:0.96"/>
<path class="l" d="M852.8 808.6L877.0 795.4L877.0 823.2L852.8 836.4Z" style="stroke-width:1.32"/>
<circle class="d" cx="856.4" cy="807.8" r="0.6"/>
<circle class="d" cx="864.9" cy="803.2" r="0.6"/>
<circle class="d" cx="873.3" cy="798.5" r="0.6"/>
<circle class="d" cx="876.0" cy="809.8" r="0.6"/>
<circle class="d" cx="873.3" cy="824.0" r="0.6"/>
<circle class="d" cx="864.9" cy="828.7" r="0.6"/>
<circle class="d" cx="856.4" cy="833.3" r="0.6"/>
<circle class="d" cx="853.7" cy="822.0" r="0.6"/>
<path class="l" d="M808.5 840.1L833.0 826.9L833.0 854.4L808.5 867.6Z" style="stroke-width:1.32"/>
<circle class="d" cx="812.2" cy="839.2" r="0.6"/>
<circle class="d" cx="820.8" cy="834.6" r="0.6"/>
<circle class="d" cx="829.3" cy="830.0" r="0.6"/>
<circle class="d" cx="832.0" cy="841.2" r="0.6"/>
<circle class="d" cx="829.3" cy="855.3" r="0.6"/>
<circle class="d" cx="820.8" cy="859.9" r="0.6"/>
<circle class="d" cx="812.2" cy="864.5" r="0.6"/>
<circle class="d" cx="809.5" cy="853.3" r="0.6"/>
<ellipse class="d" cx="885.8" cy="827.6" rx="2.3" ry="1.7" transform="rotate(30 885.8 827.6)"/>
<ellipse class="d" cx="871.9" cy="835.7" rx="2.3" ry="1.7" transform="rotate(30 871.9 835.7)"/>
<ellipse class="d" cx="889.5" cy="836.8" rx="2.3" ry="1.7" transform="rotate(30 889.5 836.8)"/>
<ellipse class="d" cx="867.5" cy="848.9" rx="2.3" ry="1.7" transform="rotate(30 867.5 848.9)"/>
<ellipse class="d" cx="885.8" cy="851.6" rx="2.3" ry="1.7" transform="rotate(30 885.8 851.6)"/>
<ellipse class="d" cx="871.9" cy="859.5" rx="2.3" ry="1.7" transform="rotate(30 871.9 859.5)"/>
<ellipse class="d" cx="841.8" cy="858.4" rx="2.3" ry="1.7" transform="rotate(30 841.8 858.4)"/>
<ellipse class="d" cx="827.5" cy="866.5" rx="2.3" ry="1.7" transform="rotate(30 827.5 866.5)"/>
<ellipse class="d" cx="845.1" cy="867.6" rx="2.3" ry="1.7" transform="rotate(30 845.1 867.6)"/>
<ellipse class="d" cx="823.5" cy="880.2" rx="2.3" ry="1.7" transform="rotate(30 823.5 880.2)"/>
<ellipse class="d" cx="841.8" cy="882.6" rx="2.3" ry="1.7" transform="rotate(30 841.8 882.6)"/>
<ellipse class="d" cx="827.5" cy="890.7" rx="2.3" ry="1.7" transform="rotate(30 827.5 890.7)"/>
</g>
<g id="50_left">
<path class="p" d="M287.7 672.3L293.6 666.4L317.4 652.8L317.8 734.4L288.5 750.5Z" style="stroke-width:1.44"/>
<path class="l" d="M290.4 749.4L290.4 673L295.4 668L317.4 655.4" style="stroke-width:1.2"/>
<circle class="l" cx="305.5" cy="684.2" r="1.2" style="stroke-width:1.08"/>
<path class="p" d="M326.3 657.9L377.8 685.9L377.8 767.2L343 751Q339.6 746.6 335 746L326.8 738.3Z" style="stroke-width:1.44"/>
<path class="l" d="M328.4 661.4L375.4 687L375.4 765.6M326.3 657.9L328.4 661.4" style="stroke-width:1.2"/>
<ellipse class="l" cx="351.4" cy="738.6" rx="8.4" ry="13.6" style="stroke-width:1.44" transform="rotate(-8 351.4 738.6)"/>
<ellipse class="l" cx="352.6" cy="738.8" rx="7.2" ry="12.4" style="stroke-width:1.08" transform="rotate(-8 352.6 738.8)"/>
<circle class="l" cx="333.2" cy="738.3" r="1.4" style="stroke-width:1.08"/>
<path class="p" d="M385.4 725L415.2 709.4L416.6 790.5L385.8 807.5Z" style="stroke-width:1.44"/>
<path class="l" d="M388.6 806L388.6 726.8L416 712.2" style="stroke-width:1.2"/>
<path class="l" d="M402.4 698.8L414.4 693" style="stroke-width:2.2;stroke:#777;stroke-linecap:butt"/>
<path class="l" d="M402.4 698.8L414.4 693" style="stroke-width:2.7;stroke:#222;stroke-dasharray:1 .7;stroke-linecap:butt"/>
<path class="l" d="M418.6 689.2L428.4 684.4L429.6 676.8" style="stroke-width:2.5;stroke:#2a2a2a"/>
<path class="p" d="M323.5 635.2L351.4 619L394.6 645.1L393.8 649L366.7 665.8L364.6 664.6Z" style="stroke-width:1.44"/>
<path class="l" d="M349.6 621.6L392.6 647.6M351.4 619L351 622.6M326 634.6L367.2 662.6L392.8 647.4M325 637L365.6 664.6M367.2 662.6L366.7 665.8" style="stroke-width:1.2"/>
<path class="l" d="M370 663.6L372 660.6L376.6 661L377.6 657.6L382 655L386 657.4L392 653.4" style="stroke-width:1.2"/>
<path class="l" d="M368.4 664.6L392.4 650" style="stroke-width:1.9"/>
<path class="l" d="M324.6 636L366 664" style="stroke-width:1.9"/>
<ellipse class="l" cx="339.7" cy="638.4" rx="6.0" ry="4.7" style="stroke-width:1.32" transform="rotate(15 339.7 638.4)"/>
<ellipse class="l" cx="354.1" cy="645.6" rx="6.0" ry="4.7" style="stroke-width:1.32" transform="rotate(15 354.1 645.6)"/>
<path class="l" d="M363.6 653.4L367.6 651L370 652.4L366 654.8ZM374.4 647L378.4 644.6L380.8 646L376.8 648.4Z" style="stroke-width:1.2"/>
<path class="t" d="M330.6 633.6L334 631.6M345 627.6L348 625.8"/>
<path class="l" d="M232.8 649L233.6 646.4L236 646.4L273.2 667.8" style="stroke-width:2.5;stroke:#3a3a3a"/>
<path class="l" d="M232.6 655L232.6 662.6" style="stroke-width:1.92;stroke-dasharray:1.4 .8;stroke-linecap:butt"/>
<path class="l" d="M232.6 663L233.2 667" style="stroke-width:1.44"/>
<path class="p" d="M264.4 754.9L269.3 755.4L272 761.7L285.5 769.3L295.4 771.1Q302 773.6 303.5 777.8L301.8 780.4L300.6 784.6L298.8 784L299.4 779.9L293.6 778.8L284.6 777.4L266.6 767.5L264.4 761.2Z" style="stroke-width:1.32"/>
<path class="l" d="M285.5 769.3L284.6 777.4M267.4 755.4L270 763" style="stroke-width:1.2"/>
<ellipse class="k" cx="260.3" cy="760.8" rx="1.1" ry="2.6" transform="rotate(15 260.3 760.8)"/>
<path class="p" d="M256.7 788.2L265.7 781.9L288.2 784.2L306.2 795.4L308.9 805.3L304.6 808.4L304.4 818.6L300.6 821.4L298 819.6L298 812.4L291.6 810.6L291.8 820.6L288.6 818.4L271.1 811.6L267.5 800.8L262.1 792.7Z" style="stroke-width:1.56"/>
<path class="l" d="M257.6 789.4L262.6 792.6L301.6 809.8L308.4 805.4" style="stroke-width:3.3;stroke:#262626"/>
<path class="l" d="M262.6 790.6L268.6 786.6L286 788L302.6 798L304.6 805.6" style="stroke-width:1.44"/>
<path class="l" d="M268.6 786.6L269.6 794L283 800.6L284 788.6M283 800.6L285 806.4L301 807M286.6 790L296 795.6L296 802M289 793.6L289 797M292.6 795.6L292.6 799.6M271.1 811.6L272.6 803.6L288 810.4M272.6 803.6L268 800.4" style="stroke-width:1.2"/>
<path class="l" d="M268 797.6L284 805.6" style="stroke-width:2.4;stroke:#333"/>
</g>
<g id="60_mid">
<path class="p" d="M428 528L464 509.5L464.5 546L430.5 565.5L430 563.6L430 528.6Z" style="stroke-width:1.32"/>
<path class="l" d="M427.6 527.6L439.6 521.4M440.6 519.4L445 517.6" style="stroke-width:2.6;stroke:#1a1a1a;stroke-linecap:butt"/>
<path class="p" d="M424.5 533.5L428 532L430.6 533.2L430.5 546.5L425 543.5Z" style="stroke-width:1.2"/>
<path class="l" d="M424.5 533.5L427.4 535L427.4 545M427.4 535L430.6 533.2" style="stroke-width:1.08"/>
<circle class="d" cx="456.8" cy="518.5" r="0.8"/>
<circle class="d" cx="445.2" cy="525.0" r="0.8"/>
<circle class="d" cx="460.5" cy="528.5" r="0.8"/>
<circle class="d" cx="446.5" cy="551.5" r="0.8"/>
<path class="l" d="M430 558L430 564.4L431.4 565.6" style="stroke-width:1.92"/>
<path class="p" d="M484.6 544.2L489 542.6L493.4 546L493.4 551.6L498 549L500 550L500 637.6L481 647.6L480.4 639L494 632L494 561L485.6 565.6L480.6 563L480.6 554Z" style="stroke-width:1.32"/>
<path class="l" d="M498 549L498 635M480.6 554L491 548.4M485.6 565.6L485.6 556M484.6 544.2L472 551.6" style="stroke-width:1.2"/>
<path class="l" d="M466 552.6L470.6 556.6" style="stroke-width:3;stroke:#222"/>
<path class="l" d="M469 553L478 553.6L484 548" style="stroke-width:1.2"/>
<circle class="d" cx="486.6" cy="546.4" r="1.5"/>
<path class="l" d="M487.6 559.4L490 558M491.6 555.4L491.6 556.4" style="stroke-width:1.44"/>
<path class="p" d="M479 625.2L484 623L493.6 628.6L493.6 632.6L484.6 637.2L479 634Z" style="stroke-width:1.32"/>
<path class="l" d="M465.6 633.6L466.4 637.2" style="stroke-width:2.6;stroke:#222"/>
<path class="l" d="M467 634.6L474 635L479.6 631.6M467.6 636.6L478 636.6" style="stroke-width:1.2"/>
<path class="l" d="M479.6 635.6L481.6 638" style="stroke-width:2;stroke:#222"/>
<path class="p" d="M476 639L480.6 638.4L480.6 650.6L476.6 652Z" style="stroke-width:1.32"/>
<path class="l" d="M478 641L478 649" style="stroke-width:1.08"/>
<path class="l" d="M485 639L487 638M490.6 636L491.6 635.4" style="stroke-width:1.44"/>
<path class="p" d="M449 637L454 635.5L458.5 672L454 673.6Z" style="stroke-width:1.32"/>
<path class="p" d="M437.5 660L448.5 654L453 657L451.6 668L451 698.6L448.6 699.6L448 688.6L439 687L437.8 662Z" style="stroke-width:1.32"/>
<path class="l" d="M437.5 660L441 662.6L452 657M441 662.6L441.6 686M451.6 668L459.6 664L459.6 683L451.4 688M448.6 691L454.6 688.6L454.6 697.6L451 698.6M439.6 687L440.6 693L444 694.6L446.6 688.4" style="stroke-width:1.2"/>
<path class="l" d="M455.6 672L455.6 680" style="stroke-width:3.4;stroke:#444"/>
<path class="l" d="M434.6 678L436.6 669L437.6 669" style="stroke-width:1.32"/>
<rect x="127.6" y="736.8" width="84.8" height="170" style="fill:#fff;stroke:#111;stroke-width:1.9"/>
<text x="190.6" y="751" style="font-size:15px;font-weight:bold;fill:#1a1a1a">A1</text>
<path d="M139.6 748.8Q139.6 746.8 141.4 747.7L195.4 773.2Q202.6 776.6 202.6 784.6L202.6 897.0Q202.6 898.0 201.7 897.5L140.5 865.1Q139.6 864.6 139.6 863.6Z" class="p" style="stroke-width:1.44"/>
<path class="l" d="M152 750L197 771Q201 774 201.6 778.4" style="stroke-width:1.2"/>
<path class="l" d="M153.6 748.8L198 769.6Q203 773 203.4 778.4M152 750L153.6 748.8" style="stroke-width:1.08"/>
<path class="l" d="M148.4 762L191.6 785L191.6 870L148.4 846Z" style="stroke-width:1.56"/>
<path class="l" d="M150.4 765.4L190 786.4M150.4 765.4L150.4 845.4M150.4 843.6L190 865.6" style="stroke-width:0.96"/>
<path class="l" d="M148.6 845L191.4 868.6" style="stroke-width:2;stroke:#555;stroke-dasharray:.8 .8;stroke-linecap:butt"/>
<path class="l" d="M139.6 766L135.6 768L134 770.6L135 772.6L139.6 770.6M139.6 846.6L135.6 848.6L134 851L135 853L139.6 851" style="stroke-width:1.32"/>
<path class="l" d="M202.6 835.6L206.4 836.6L207.6 839.6L206.6 842.6L202.6 843.4M204.4 837.6L204.4 842" style="stroke-width:1.32"/>
<circle class="d" cx="197.6" cy="840.0" r="1.2"/>
<circle class="b" cx="571.1" cy="824.7" r="18.0" style="stroke-width:1.8"/>
<circle class="l" cx="575.5" cy="774.8" r="7.2" style="stroke-width:1.32"/>
<path class="l" d="M573.5 773.8L577.5 773.8L577.9 778.2L573.1 778.2Z" style="stroke-width:1.68;fill:#666"/>
<ellipse cx="575.5" cy="773.2" rx="2.4" ry="1.5" style="fill:#333;stroke:#222;stroke-width:1.2"/>
<circle class="l" cx="490.8" cy="823.6" r="7.2" style="stroke-width:1.32"/>
<path class="l" d="M488.8 822.6L492.8 822.6L493.2 827.0L488.4 827.0Z" style="stroke-width:1.68;fill:#666"/>
<ellipse cx="490.8" cy="822.0" rx="2.4" ry="1.5" style="fill:#333;stroke:#222;stroke-width:1.2"/>
<circle class="l" cx="658.0" cy="822.5" r="7.2" style="stroke-width:1.32"/>
<path class="l" d="M656.0 821.5L660.0 821.5L660.4 825.9L655.6 825.9Z" style="stroke-width:1.68;fill:#666"/>
<ellipse cx="658.0" cy="820.9" rx="2.4" ry="1.5" style="fill:#333;stroke:#222;stroke-width:1.2"/>
<circle class="l" cx="573.3" cy="871.6" r="7.2" style="stroke-width:1.32"/>
<path class="l" d="M571.3 870.6L575.3 870.6L575.7 875.0L570.9 875.0Z" style="stroke-width:1.68;fill:#666"/>
<ellipse cx="573.3" cy="870.0" rx="2.4" ry="1.5" style="fill:#333;stroke:#222;stroke-width:1.2"/>
<path class="k" d="M569.6 806.2L572.8 806.4L575 782.6L574.2 782.6Z"/>
<path class="k" d="M552.6 823.4L552.6 826.2L498.4 824L498.4 823.4Z"/>
<path class="k" d="M589.6 823.4L589.6 826.4L650.6 823L650.6 822.4Z"/>
<path class="k" d="M570.6 843L573.6 843L573.8 864L573 864Z"/>
<path class="p" d="M563.6 824.4L566.6 821.6L566.2 814.6Q566.6 812 571.6 812Q576.6 812.4 576.6 815L576.6 821.6L580.4 824.6L580.6 831.6Q577 836.4 571.6 836.4Q566 836 563.4 831.6Z" style="stroke-width:1.32"/>
<ellipse cx="571.4" cy="814.6" rx="4.4" ry="2.2" style="fill:#fff;stroke:#222;stroke-width:1.44"/>
<ellipse cx="571.4" cy="814.6" rx="2" ry="1" style="fill:#444;stroke:none"/>
<path class="l" d="M566.4 817.6Q571.4 820.6 576.6 817.6M566.4 819.8Q571.4 822.8 576.6 819.8M566.4 822Q571.4 825 576.6 822" style="stroke-width:1.44"/>
<path class="l" d="M563.6 824.4Q571.6 829.6 580.4 824.6M568 827.6L568 835.6M575.6 827.6L575.6 835.6" style="stroke-width:1.2"/>
</g>
<g id="80_leaders">
<g class="ld">
<path d="M504 65.8L556.1 43.5"/>
<path d="M504 114.2L549.5 88.6"/>
<path d="M504 167.9L588 147.2"/>
<path d="M504 212.7L545.4 202.6"/>
<path d="M696.6 331.6L725 319"/>
<path d="M750.6 333.6L725.6 361.6"/>
<path d="M797 333.6L778.6 362.4"/>
<path d="M657.6 352.4L680.6 379"/>
<path d="M708 416.4L717 407.6"/>
<path d="M740 454L735.6 417.6"/>
<path d="M790.4 433.6L765 443.6"/>
<path d="M693 469L686 469"/>
<path d="M792 477.6L765 503"/>
<path d="M708.6 503L699 507.6"/>
<path d="M731 527.4L692 548"/>
<path d="M704 578.4L686 573.6"/>
<path d="M741 567L732 549.6"/>
<path d="M807.6 515.6L810.4 538.4"/>
<path d="M836.8 630.6L772.4 665"/>
<path d="M847.5 690L805.2 774.8"/>
<path d="M859.2 751.9L869 792.2"/>
<path d="M540.3 884.1L570.7 830.9"/>
<path d="M476.3 516L458.3 541.9"/>
<path d="M395.9 585.6L442.7 537.1"/>
<path d="M433.6 607.2L485.2 630.7"/>
<path d="M425.7 649.9L444.4 673.9"/>
<path d="M250 609.4L353.5 631.6"/>
<path d="M193 617.5L232 650.5"/>
<path d="M250 693.4L298 706"/>
<path d="M342.4 811L366.4 748.6"/>
<path d="M419.5 811L401.5 769"/>
<path d="M250 742L272.5 766"/>
<path d="M291.4 814.2L330.4 884.6"/>
<path d="M416.8 690L456 733"/>
<path d="M504.4 327.4L530.5 310.1"/>
<path d="M503.3 376.5L600 390.4"/>
<path d="M497.4 421.3L512.2 439.1"/>
</g>
<g class="d">
<circle cx="556.1" cy="43.5" r="1.8"/><circle cx="549.5" cy="88.6" r="1.8"/><circle cx="588" cy="147.2" r="1.8"/><circle cx="545.4" cy="202.6" r="1.8"/>
<circle cx="725" cy="319" r="1.8"/><circle cx="725.6" cy="361.6" r="1.8"/><circle cx="778.6" cy="362.4" r="1.8"/><circle cx="680.6" cy="379" r="1.8"/>
<circle cx="717" cy="407.6" r="1.8"/><circle cx="735.6" cy="417.6" r="1.8"/><circle cx="765" cy="443.6" r="1.8"/><circle cx="686" cy="469" r="1.8"/>
<circle cx="765" cy="503" r="1.8"/><circle cx="699" cy="507.6" r="1.8"/><circle cx="692" cy="548" r="1.8"/><circle cx="686" cy="573.6" r="1.8"/>
<circle cx="732" cy="549.6" r="1.8"/><circle cx="810.4" cy="538.4" r="1.8"/><circle cx="772.4" cy="665" r="1.8"/><circle cx="805.2" cy="774.8" r="1.8"/>
<circle cx="869" cy="792.2" r="1.8"/><circle cx="570.7" cy="830.9" r="1.8"/><circle cx="458.3" cy="541.9" r="1.8"/><circle cx="442.7" cy="537.1" r="1.8"/>
<circle cx="485.2" cy="630.7" r="1.8"/><circle cx="444.4" cy="673.9" r="1.8"/><circle cx="353.5" cy="631.6" r="1.8"/><circle cx="232" cy="650.5" r="1.8"/>
<circle cx="298" cy="706" r="1.8"/><circle cx="366.4" cy="748.6" r="1.8"/><circle cx="401.5" cy="769" r="1.8"/><circle cx="272.5" cy="766" r="1.8"/>
<circle cx="291.4" cy="814.2" r="1.8"/><circle cx="416.8" cy="690" r="1.8"/>
<circle cx="530.5" cy="310.1" r="1.8"/><circle cx="600" cy="390.4" r="1.8"/><circle cx="512.2" cy="439.1" r="1.8"/>
</g>
</g>
<g id="90_labels">
<text x="478.7" y="78.3">26</text>
<text x="478.7" y="129.4">23</text>
<text x="478.7" y="177.3">24</text>
<text x="478.7" y="221.3">25</text>
<text x="478.8" y="344.7">20</text>
<text x="478.8" y="380.3">19</text>
<text x="478.8" y="414">21</text>
<text x="640" y="344.4">33</text>
<text x="672" y="344">35</text>
<text x="754.4" y="324.4">34</text>
<text x="798" y="324.4">37</text>
<text x="686" y="436">36</text>
<text x="734" y="473.6">32</text>
<text x="798" y="433">31</text>
<text x="701" y="473.6">18</text>
<text x="799" y="468.4">16</text>
<text x="717" y="501.6">22</text>
<text x="740" y="524.4">15</text>
<text x="712.4" y="587.6">14</text>
<text x="740" y="587.6">17</text>
<text x="798.4" y="506.6">27</text>
<text x="845.8" y="627.8">28</text>
<text x="845.8" y="682.4">29</text>
<text x="845.8" y="744">30</text>
<text x="525.3" y="904">13</text>
<text x="480.4" y="507.6">12</text>
<text x="376" y="606">11</text>
<text x="411.3" y="606">10</text>
<text x="413.2" y="642">9</text>
<text x="234.4" y="612.4">8</text>
<text x="234.4" y="696.4">3</text>
<text x="234.4" y="734.5">2</text>
<text x="333.4" y="831.2">4</text>
<text x="422.5" y="831.4">5</text>
<text x="333.2" y="905">1</text>
<text x="458" y="744.6">7</text>
<text x="180.2" y="613.7" style="fill:#f30000;stroke:none;font-weight:bold;font-size:16px">6</text>
</g>
</svg>
</body></html>
